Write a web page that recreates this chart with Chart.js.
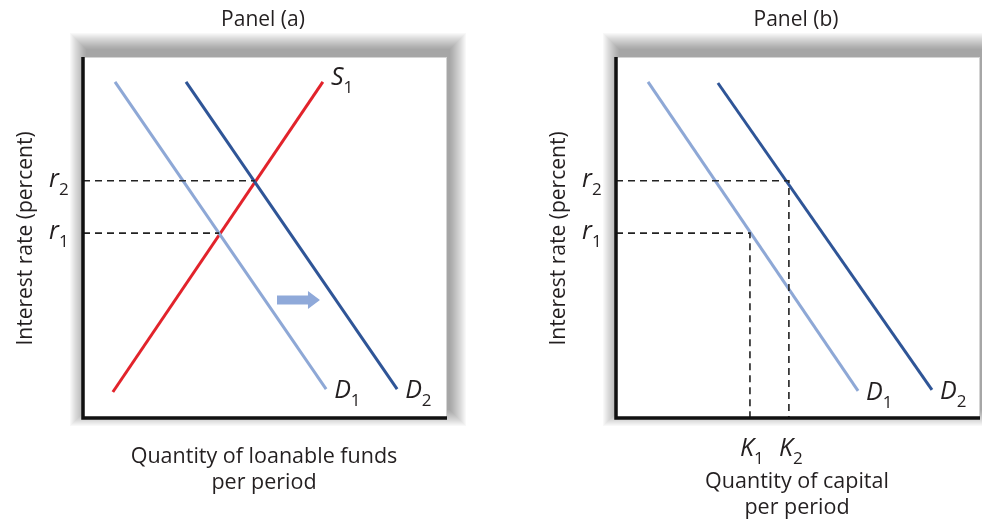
<!DOCTYPE html>
<html>
<head>
<meta charset="utf-8">
<script src="https://cdn.jsdelivr.net/npm/chart.js@4.4.1/dist/chart.umd.min.js"></script>
<style>
  html, body { margin: 0; padding: 0; background: #fff; }
  #wrap { position: relative; width: 982px; height: 527px; overflow: hidden; }
  #wrap canvas { position: absolute; top: 0; }
  #chartA { left: 0; }
  #chartB { left: 491px; }
</style>
</head>
<body>
<div id="wrap">
  <canvas id="chartA" width="491" height="527"></canvas>
  <canvas id="chartB" width="491" height="527"></canvas>
</div>
<script>
const rateLevels = [5.12, 6.57];          // r1, r2
const rateSubs = ['1', '2'];

// panel (a): loanable funds
const supplyQ = [0.82, 6.59];
const supplyR = [0.72, 9.31];
const demandA1Q = [0.88, 6.68];
const demandA1R = [9.31, 0.80];
const demandA2Q = [2.83, 8.63];
const demandA2R = [9.31, 0.80];
const equilibriumQ = [3.74, 4.72];        // where S1 meets D1, D2
const arrowQ = [5.33, 6.51];
const arrowR = 3.27;

// panel (b): capital
const demandB1Q = [0.88, 6.65];
const demandB1R = [9.31, 0.75];
const demandB2Q = [2.80, 8.68];
const demandB2R = [9.28, 0.78];
const capitalK = [3.68, 4.75];            // K1, K2
const capitalSubs = ['1', '2'];

const FONT = '"Open Sans", "Noto Sans", sans-serif';
const LIGHT = '#8ea8d6';
const DARK = '#2f5597';
const RED = '#e2232b';
const DASH = '#222';
const INK = '#231f20';

function pts(xs, ys) {
  return xs.map((x, i) => ({ x: x, y: ys[i] }));
}

function solid(data, color) {
  return { data: data, borderColor: color, borderWidth: 3, pointRadius: 0, fill: false, tension: 0 };
}

function dashed(data) {
  return { data: data, borderColor: DASH, borderWidth: 1.6, borderDash: [7, 5], pointRadius: 0, fill: false, tension: 0 };
}

// italic letter with an upright subscript digit
function subLabel(ctx, letter, sub, x, base) {
  ctx.save();
  ctx.fillStyle = INK;
  ctx.textAlign = 'left';
  ctx.textBaseline = 'alphabetic';
  ctx.font = 'italic 25px ' + FONT;
  ctx.fillText(letter, x, base);
  const w = ctx.measureText(letter).width;
  ctx.font = '17px ' + FONT;
  ctx.fillText(sub, x + w, base + 8);
  ctx.restore();
}

function centerText(ctx, txt, x, base, size) {
  ctx.save();
  ctx.fillStyle = INK;
  ctx.font = size + 'px ' + FONT;
  ctx.textAlign = 'center';
  ctx.textBaseline = 'alphabetic';
  ctx.fillText(txt, x, base);
  ctx.restore();
}

// white plot box with soft shadow, black left/bottom axes, text
const panelDecor = {
  id: 'panelDecor',
  beforeDraw(chart) {
    const { ctx, chartArea: a } = chart;
    ctx.save();
    // soft shadow built from stacked translucent rects, shifted up and right
    const dx = 3, dy = -8, spread = 16;
    ctx.fillStyle = 'rgba(0,0,0,0.026)';
    for (let k = spread; k >= 0; k--) {
      ctx.fillRect(a.left + dx - k, a.top + dy - k, a.right - a.left + 2 * k, a.bottom - a.top + 2 * k);
    }
    ctx.fillStyle = '#fff';
    ctx.fillRect(a.left, a.top, a.right - a.left, a.bottom - a.top);
    ctx.strokeStyle = '#d4d4d4';
    ctx.lineWidth = 1;
    ctx.strokeRect(a.left + 0.5, a.top + 0.5, a.right - a.left - 1, a.bottom - a.top - 1);
    ctx.restore();
  },
  afterDatasetsDraw(chart) {
    const { ctx, chartArea: a } = chart;
    const o = chart.options.plugins.panelDecor;
    ctx.save();
    ctx.strokeStyle = '#111';
    ctx.lineWidth = 3.5;
    ctx.beginPath();
    ctx.moveTo(a.left, a.top);
    ctx.lineTo(a.left, a.bottom);
    ctx.lineTo(a.right, a.bottom);
    ctx.stroke();
    ctx.restore();

    const xs = chart.scales.x, ys = chart.scales.y;
    const cx = (a.left + a.right) / 2;

    // title
    centerText(ctx, o.title, cx - 2, 26, 21);

    // y axis title
    ctx.save();
    ctx.translate(a.left - 57, (a.top + a.bottom) / 2 + 1);
    ctx.rotate(-Math.PI / 2);
    ctx.fillStyle = INK;
    ctx.font = '21px ' + FONT;
    ctx.textAlign = 'center';
    ctx.textBaseline = 'middle';
    ctx.fillText('Interest rate (percent)', 0, 0);
    ctx.restore();

    // r1, r2
    rateLevels.forEach((r, i) => {
      subLabel(ctx, 'r', rateSubs[i], a.left - 34, ys.getPixelForValue(r) + 6);
    });

    // curve labels at the line ends
    o.curves.forEach(c => {
      subLabel(ctx, c.letter, c.sub, xs.getPixelForValue(c.q) + 8, ys.getPixelForValue(c.r) + c.dy);
    });

    // K1, K2
    if (o.capital) {
      capitalK.forEach((k, i) => {
        subLabel(ctx, 'K', capitalSubs[i], xs.getPixelForValue(k) - 10, a.bottom + 38);
      });
    }

    // x axis title
    o.xTitle.forEach((line, i) => {
      centerText(ctx, line, cx - 1, o.xTitleBase + i * 26, 21.5);
    });

    // shift arrow
    if (o.arrow) {
      const x0 = xs.getPixelForValue(arrowQ[0]);
      const x1 = xs.getPixelForValue(arrowQ[1]);
      const y = ys.getPixelForValue(arrowR);
      ctx.save();
      ctx.fillStyle = '#8fa9d9';
      ctx.beginPath();
      ctx.moveTo(x0, y - 4.5);
      ctx.lineTo(x1 - 12, y - 4.5);
      ctx.lineTo(x1 - 12, y - 9);
      ctx.lineTo(x1, y);
      ctx.lineTo(x1 - 12, y + 9);
      ctx.lineTo(x1 - 12, y + 4.5);
      ctx.lineTo(x0, y + 4.5);
      ctx.closePath();
      ctx.fill();
      ctx.restore();
    }
  }
};

function makeChart(id, datasets, padding, decor) {
  return new Chart(document.getElementById(id), {
    type: 'line',
    data: { datasets: datasets },
    options: {
      responsive: false,
      animation: false,
      layout: { padding: padding },
      scales: {
        x: { type: 'linear', min: 0, max: 10, display: false },
        y: { type: 'linear', min: 0, max: 10, display: false }
      },
      plugins: { legend: { display: false }, tooltip: { enabled: false }, panelDecor: decor }
    },
    plugins: [panelDecor]
  });
}

// Panel (a)
makeChart('chartA', [
  dashed([{ x: 0, y: rateLevels[1] }, { x: equilibriumQ[1], y: rateLevels[1] }]),
  dashed([{ x: 0, y: rateLevels[0] }, { x: equilibriumQ[0], y: rateLevels[0] }]),
  solid(pts(demandA1Q, demandA1R), LIGHT),
  solid(pts(demandA2Q, demandA2R), DARK),
  solid(pts(supplyQ, supplyR), RED)
], { left: 83, right: 44, top: 57, bottom: 109 }, {
  title: 'Panel (a)',
  curves: [
    { letter: 'S', sub: '1', q: supplyQ[1], r: supplyR[1], dy: 3 },
    { letter: 'D', sub: '1', q: demandA1Q[1], r: demandA1R[1], dy: 9 },
    { letter: 'D', sub: '2', q: demandA2Q[1], r: demandA2R[1], dy: 9 }
  ],
  xTitle: ['Quantity of loanable funds', 'per period'],
  xTitleBase: 463,
  arrow: true,
  capital: false
});

// Panel (b)
makeChart('chartB', [
  dashed([{ x: 0, y: rateLevels[1] }, { x: capitalK[1], y: rateLevels[1] }, { x: capitalK[1], y: 0 }]),
  dashed([{ x: 0, y: rateLevels[0] }, { x: capitalK[0], y: rateLevels[0] }, { x: capitalK[0], y: 0 }]),
  solid(pts(demandB1Q, demandB1R), LIGHT),
  solid(pts(demandB2Q, demandB2R), DARK)
], { left: 125, right: 2, top: 57, bottom: 109 }, {
  title: 'Panel (b)',
  curves: [
    { letter: 'D', sub: '1', q: demandB1Q[1], r: demandB1R[1], dy: 9 },
    { letter: 'D', sub: '2', q: demandB2Q[1], r: demandB2R[1], dy: 9 }
  ],
  xTitle: ['Quantity of capital', 'per period'],
  xTitleBase: 488,
  arrow: false,
  capital: true
});
</script>
</body>
</html>
